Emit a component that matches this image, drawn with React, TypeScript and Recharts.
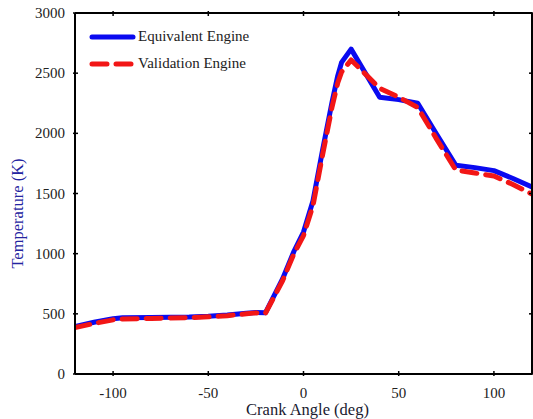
import { LineChart, Line, XAxis, YAxis, Legend, Label } from 'recharts'

// crank angle (deg)
const angles = [
  -120, -110, -100, -95, -80, -60, -50, -40, -30, -25, -20, -11, -5, 0, 5, 10,
  15, 18, 20, 25, 40, 50, 60, 70, 80, 90, 100, 110, 120,
]
// temperature (K)
const equivalent = [
  395, 430, 460, 468, 470, 474, 480, 490, 505, 512, 508, 790, 1020, 1180, 1440,
  1860, 2260, 2480, 2590, 2700, 2300, 2280, 2250, 1990, 1735, 1715, 1690, 1625,
  1555,
]
const validation = [
  385, 420, 450, 458, 462, 468, 475, 485, 500, 508, 505, 775, 1000, 1150, 1400,
  1820, 2220, 2420, 2510, 2610, 2375, 2300, 2215, 1950, 1695, 1670, 1645, 1575,
  1495,
]
const xTicks = [-100, -50, 0, 50, 100]
const yTicks = [0, 500, 1000, 1500, 2000, 2500, 3000]

const data = angles.map((angle, i) => ({
  angle,
  equivalent: equivalent[i],
  validation: validation[i],
}))

const FONT = '"Liberation Serif", "Times New Roman", serif'
const BLUE = '#0a0af0'
const RED = '#f21616'
const DASH = '15 9'

const BottomTick = ({ x, y, payload }: any) => (
  <g>
    <line x1={x} x2={x} y1={y} y2={y - 5} stroke="#000" strokeWidth={1.5} />
    <text x={x} y={y + 22} textAnchor="middle" fontSize={15} fontFamily={FONT} fill="#222">
      {payload.value}
    </text>
  </g>
)
const TopTick = ({ x, y }: any) => (
  <line x1={x} x2={x} y1={y} y2={y + 5} stroke="#000" strokeWidth={1.5} />
)
const LeftTick = ({ x, y, payload }: any) => (
  <g>
    <line x1={x} x2={x + 5} y1={y} y2={y} stroke="#000" strokeWidth={1.5} />
    <text x={x - 8} y={y + 5} textAnchor="end" fontSize={15} fontFamily={FONT} fill="#222">
      {payload.value}
    </text>
  </g>
)
const RightTick = ({ x, y }: any) => (
  <line x1={x} x2={x - 5} y1={y} y2={y} stroke="#000" strokeWidth={1.5} />
)

const seriesStyle: Record<string, { color: string; dash?: string }> = {
  equivalent: { color: BLUE },
  validation: { color: RED, dash: DASH },
}

const renderLegend = ({ payload }: any) => (
  <div>
    {(payload || []).map((entry: any) => {
      const s = seriesStyle[entry.dataKey] || { color: entry.color }
      return (
        <div
          key={entry.dataKey}
          style={{ display: 'flex', alignItems: 'center', height: 27 }}
        >
          <svg width={50} height={10}>
            <line
              x1={3}
              x2={44}
              y1={5}
              y2={5}
              stroke={s.color}
              strokeWidth={5}
              strokeLinecap="round"
              strokeDasharray={s.dash}
            />
          </svg>
          <span style={{ fontFamily: FONT, fontSize: 15, color: '#222', marginLeft: -1 }}>
            {entry.value}
          </span>
        </div>
      )
    })}
  </div>
)

export default function App() {
  return (
    <div style={{ position: 'absolute', left: 0, top: 0, width: 533, height: 419, background: '#fff' }}>
      <LineChart
        width={533}
        height={419}
        data={data}
        margin={{ top: 12, right: 0, left: 74, bottom: 44 }}
      >
        <XAxis
          dataKey="angle"
          type="number"
          domain={[-120, 120]}
          ticks={xTicks}
          allowDataOverflow
          height={1}
          tickSize={0}
          tickLine={false}
          tick={BottomTick}
          axisLine={{ stroke: '#000', strokeWidth: 2 }}
        >
          <Label
            content={({ viewBox }: any) => (
              <text
                x={viewBox.x + viewBox.width / 2 + 4}
                y={viewBox.y + 41}
                textAnchor="middle"
                fontSize={16.5}
                fontFamily={FONT}
                fill="#1a1a30"
              >
                Crank Angle (deg)
              </text>
            )}
          />
        </XAxis>
        <XAxis
          xAxisId="top"
          orientation="top"
          dataKey="angle"
          type="number"
          domain={[-120, 120]}
          ticks={xTicks}
          allowDataOverflow
          height={1}
          tickSize={0}
          tickLine={false}
          tick={TopTick}
          axisLine={{ stroke: '#000', strokeWidth: 2 }}
        />
        <YAxis
          type="number"
          domain={[0, 3000]}
          ticks={yTicks}
          allowDataOverflow
          width={1}
          tickSize={0}
          tickLine={false}
          tick={LeftTick}
          axisLine={{ stroke: '#000', strokeWidth: 2 }}
        >
          <Label
            content={({ viewBox }: any) => {
              const cx = viewBox.x - 57
              const cy = viewBox.y + viewBox.height / 2 + 20
              return (
                <text
                  x={cx}
                  y={cy}
                  transform={`rotate(-90 ${cx} ${cy})`}
                  textAnchor="middle"
                  dominantBaseline="central"
                  fontSize={16.5}
                  fontFamily={FONT}
                  fill="#2424a0"
                >
                  Temperature (K)
                </text>
              )
            }}
          />
        </YAxis>
        <YAxis
          yAxisId="right"
          orientation="right"
          type="number"
          domain={[0, 3000]}
          ticks={yTicks}
          allowDataOverflow
          width={1}
          tickSize={0}
          tickLine={false}
          tick={RightTick}
          axisLine={{ stroke: '#000', strokeWidth: 2 }}
        />
        <Legend
          layout="horizontal"
          verticalAlign="middle"
          align="center"
          content={renderLegend}
          wrapperStyle={{ left: 89, top: 23, width: 'auto', height: 'auto' }}
        />
        <Line
          type="linear"
          dataKey="equivalent"
          name="Equivalent Engine"
          stroke={BLUE}
          strokeWidth={5}
          strokeLinejoin="round"
          strokeLinecap="round"
          dot={false}
          activeDot={false}
          isAnimationActive={false}
        />
        <Line
          type="linear"
          dataKey="validation"
          name="Validation Engine"
          stroke={RED}
          strokeWidth={5}
          strokeDasharray={DASH}
          strokeLinejoin="round"
          strokeLinecap="round"
          dot={false}
          activeDot={false}
          isAnimationActive={false}
        />
      </LineChart>
    </div>
  )
}
